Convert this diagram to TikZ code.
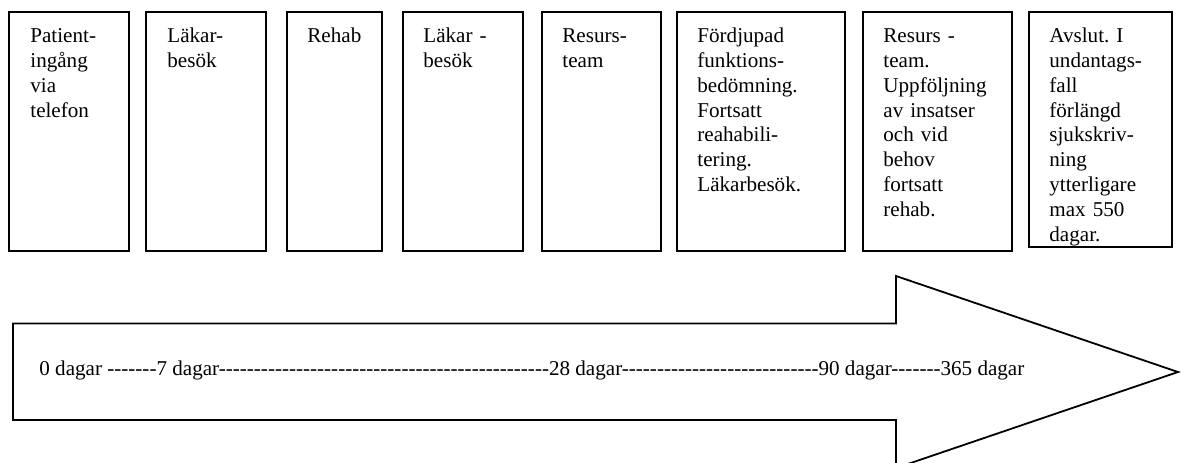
\documentclass[tikz,border=0pt]{standalone}
\usepackage{fontspec}
\newfontfamily\tmfont{Liberation Serif}[Ligatures=TeXOff]
\usetikzlibrary{positioning}
\frenchspacing

\begin{document}
\begin{tikzpicture}[x=0.5pt,y=-0.5pt,node distance=9pt,
box/.style={draw,line width=0.9pt,inner sep=0pt,outer sep=0pt,minimum height=119.5pt,anchor=north west},
txt/.style={anchor=north west,inner sep=0pt,align=left,text width=80pt,
  font=\tmfont\fontsize{10.55}{12.4}\selectfont,execute at begin node=\strut},
lbl/.style={inner sep=0pt,font=\tmfont\fontsize{10.55}{12.4}\selectfont},
pil/.style={draw,line width=0.9pt}]
\useasboundingbox (0,0) rectangle (1181,462);
% steps along the top
\node[box,minimum width=60pt](b1) at (9,12){};
\node[box,minimum width=60pt,right=8.5pt of b1](b2){};
\node[box,minimum width=47.5pt,right=10.5pt of b2](b3){};
\node[box,minimum width=60pt,right=10.5pt of b3](b4){};
\node[box,minimum width=59.5pt,right=9.5pt of b4](b5){};
\node[box,minimum width=84pt,right=8pt of b5](b6){};
\node[box,minimum width=74.5pt,right=9pt of b6](b7){};
\node[box,minimum width=71.5pt,minimum height=117.5pt,right=8.5pt of b7.north east,anchor=north west](b8){};
\node[txt](t1) at ([shift={(21,13)}]b1.north west){Patient-\\ingång\\via\\telefon};
\node[txt](t2) at ([shift={(21,13)}]b2.north west){Läkar-\\besök};
\node[txt](t3) at ([shift={(20,13)}]b3.north west){Rehab};
\node[txt](t4) at ([shift={(20,13)}]b4.north west){Läkar -\\besök};
\node[txt](t5) at ([shift={(20,13)}]b5.north west){Resurs-\\team};
\node[txt](t6) at ([shift={(20,13)}]b6.north west){Fördjupad\\funktions-\\bedömning.\\Fortsatt\\reahabili-\\tering.\\Läkarbesök.};
\node[txt](t7) at ([shift={(20,13)}]b7.north west){Resurs -\\team.\\Uppföljning\\av insatser\\och vid\\behov\\fortsatt\\rehab.};
\node[txt](t8) at ([shift={(20,13)}]b8.north west){Avslut. I\\undantags-\\fall\\förlängd\\sjukskriv-\\ning\\ytterligare\\max 550\\dagar.};
% time line arrow
\draw[pil](13,323.5)--(896,323.5)--(896,276)--(1178,372)--(896,468)--(896,420)--(13,420)--cycle;
\node[lbl,anchor=base west](tl) at (39,375){0 dagar -------7 dagar-----------------------------------------------28 dagar----------------------------90 dagar-------365 dagar};
\end{tikzpicture}
\end{document}
